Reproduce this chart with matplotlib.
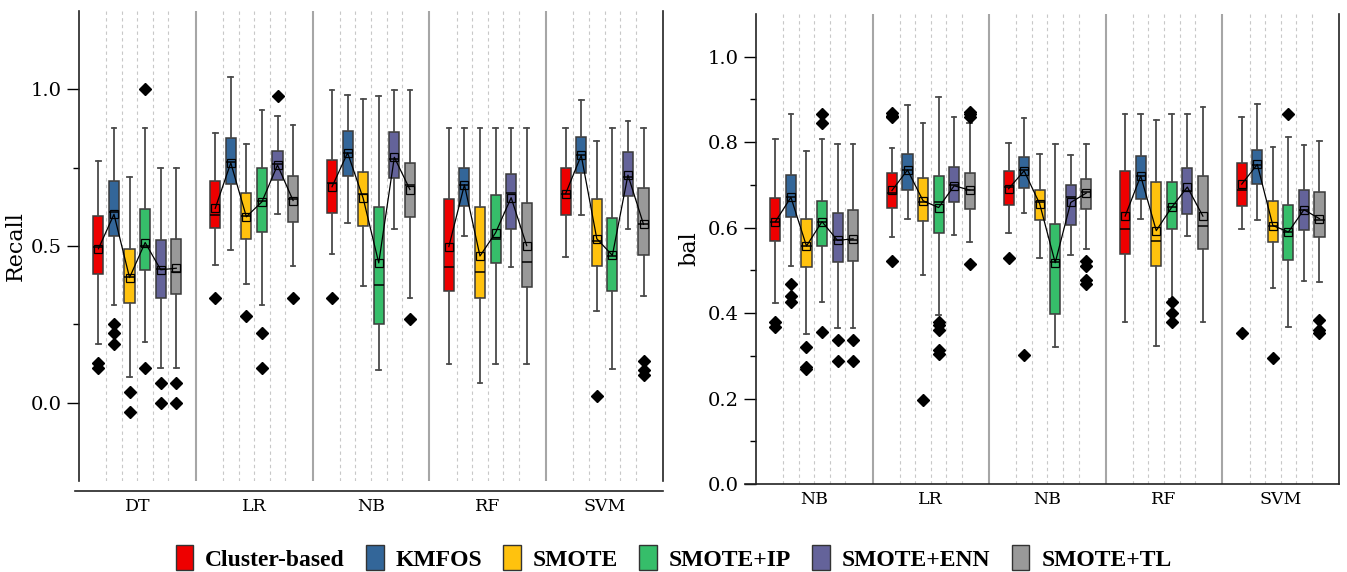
import numpy as np
import matplotlib.pyplot as plt
from matplotlib.patches import Patch
from matplotlib.ticker import FixedLocator

# ---------------- data ----------------
methods = ["Cluster-based", "KMFOS", "SMOTE", "SMOTE+IP", "SMOTE+ENN", "SMOTE+TL"]
colors = ["#EE0000", "#336699", "#FFC20E", "#36BE6A", "#64639A", "#999999"]

recall_groups = ["DT", "LR", "NB", "RF", "SVM"]
bal_groups = ["NB", "LR", "NB", "RF", "SVM"]

# rows: classifier, columns: method
recall_hi = [[0.772, 0.875, 0.721, 0.875, 0.749, 0.749],
             [0.859, 1.040, 0.824, 0.934, 0.916, 0.886],
             [0.999, 0.981, 0.969, 0.977, 0.999, 0.999],
             [0.875, 0.875, 0.875, 0.875, 0.875, 0.875],
             [0.875, 0.966, 0.834, 0.875, 0.899, 0.875]]
recall_q3 = [[0.596, 0.708, 0.489, 0.619, 0.518, 0.523],
             [0.707, 0.845, 0.670, 0.749, 0.803, 0.723],
             [0.773, 0.868, 0.736, 0.624, 0.864, 0.765],
             [0.649, 0.749, 0.624, 0.664, 0.730, 0.638],
             [0.749, 0.847, 0.649, 0.588, 0.799, 0.686]]
recall_med = [[0.498, 0.609, 0.402, 0.500, 0.425, 0.418],
              [0.599, 0.769, 0.597, 0.642, 0.760, 0.649],
              [0.702, 0.795, 0.665, 0.376, 0.778, 0.694],
              [0.434, 0.694, 0.416, 0.523, 0.668, 0.450],
              [0.666, 0.790, 0.516, 0.468, 0.719, 0.569]]
recall_q1 = [[0.410, 0.532, 0.317, 0.424, 0.335, 0.346],
             [0.558, 0.697, 0.521, 0.546, 0.712, 0.577],
             [0.604, 0.723, 0.563, 0.250, 0.716, 0.591],
             [0.357, 0.627, 0.333, 0.445, 0.553, 0.369],
             [0.599, 0.732, 0.437, 0.357, 0.659, 0.471]]
recall_lo = [[0.188, 0.312, 0.082, 0.195, 0.110, 0.110],
             [0.438, 0.487, 0.380, 0.312, 0.603, 0.436],
             [0.473, 0.572, 0.373, 0.104, 0.553, 0.333],
             [0.125, 0.531, 0.063, 0.125, 0.434, 0.125],
             [0.464, 0.599, 0.291, 0.108, 0.553, 0.339]]
recall_mean = [[0.491, 0.601, 0.399, 0.511, 0.424, 0.429],
               [0.620, 0.765, 0.593, 0.641, 0.758, 0.645],
               [0.689, 0.797, 0.652, 0.446, 0.783, 0.680],
               [0.498, 0.695, 0.468, 0.542, 0.654, 0.501],
               [0.667, 0.789, 0.523, 0.470, 0.726, 0.569]]
recall_fliers = [[[0.128, 0.110], [0.252, 0.222, 0.188], [0.034, -0.030], [1.0, 0.110], [0.063, 0.0], [0.063, 0.0]],
                 [[0.333], [], [0.277], [0.222, 0.110], [0.977], [0.333]],
                 [[0.333], [], [], [], [], [0.267]],
                 [[], [], [], [], [], []],
                 [[], [], [0.021], [], [], [0.132, 0.103, 0.089]]]

bal_hi = [[0.807, 0.865, 0.780, 0.808, 0.796, 0.796],
          [0.786, 0.888, 0.844, 0.906, 0.860, 0.844],
          [0.799, 0.857, 0.772, 0.795, 0.769, 0.796],
          [0.865, 0.865, 0.852, 0.865, 0.865, 0.882],
          [0.860, 0.890, 0.789, 0.812, 0.793, 0.802]]
bal_q3 = [[0.669, 0.723, 0.621, 0.662, 0.634, 0.641],
          [0.727, 0.772, 0.716, 0.720, 0.741, 0.727],
          [0.733, 0.765, 0.688, 0.609, 0.700, 0.715],
          [0.732, 0.767, 0.706, 0.706, 0.740, 0.722],
          [0.751, 0.781, 0.662, 0.652, 0.688, 0.683]]
bal_med = [[0.614, 0.672, 0.558, 0.614, 0.572, 0.572],
           [0.682, 0.735, 0.661, 0.659, 0.699, 0.689],
           [0.696, 0.736, 0.661, 0.519, 0.671, 0.683],
           [0.596, 0.721, 0.569, 0.648, 0.686, 0.605],
           [0.687, 0.747, 0.604, 0.590, 0.641, 0.618]]
bal_q1 = [[0.568, 0.626, 0.507, 0.557, 0.519, 0.522],
          [0.645, 0.687, 0.616, 0.587, 0.659, 0.643],
          [0.652, 0.692, 0.618, 0.398, 0.606, 0.644],
          [0.539, 0.667, 0.511, 0.596, 0.631, 0.550],
          [0.650, 0.702, 0.566, 0.524, 0.594, 0.577]]
bal_lo = [[0.423, 0.511, 0.351, 0.425, 0.365, 0.365],
          [0.577, 0.620, 0.490, 0.395, 0.583, 0.567],
          [0.588, 0.634, 0.529, 0.320, 0.536, 0.550],
          [0.380, 0.620, 0.323, 0.433, 0.581, 0.380],
          [0.596, 0.617, 0.458, 0.367, 0.476, 0.472]]
bal_mean = [[0.614, 0.671, 0.557, 0.614, 0.570, 0.574],
            [0.687, 0.735, 0.663, 0.647, 0.698, 0.688],
            [0.691, 0.733, 0.656, 0.518, 0.659, 0.681],
            [0.627, 0.721, 0.593, 0.648, 0.695, 0.627],
            [0.702, 0.748, 0.605, 0.590, 0.642, 0.621]]
bal_fliers = [[[0.380, 0.367], [0.468, 0.440, 0.425], [0.320, 0.273, 0.270], [0.865, 0.844, 0.355], [0.336, 0.289], [0.336, 0.289]],
              [[0.868, 0.862, 0.858, 0.521], [], [0.196], [0.380, 0.372, 0.361, 0.314, 0.305], [], [0.871, 0.866, 0.860, 0.515]],
              [[0.528], [0.302], [], [], [], [0.523, 0.511, 0.478, 0.468]],
              [[], [], [], [0.426, 0.400, 0.380], [], []],
              [[0.353], [], [0.294], [0.865], [], [0.384, 0.361, 0.353]]]

plt.rcParams['font.family'] = 'DejaVu Serif'

GROUP_W = 7.5   # width of one classifier block in x units
OFFSET = 1.25   # position of the first box inside a block


def draw_panel(ax, groups, lo, q1, med, q3, hi, mean, fliers):
    n_g = len(groups)
    n_m = len(methods)
    stats, pos, cols = [], [], []
    for g in range(n_g):
        for m in range(n_m):
            stats.append(dict(whislo=lo[g][m], q1=q1[g][m], med=med[g][m],
                              q3=q3[g][m], whishi=hi[g][m], mean=mean[g][m],
                              fliers=fliers[g][m]))
            pos.append(g * GROUP_W + OFFSET + m)
            cols.append(colors[m])

    # separators
    for g in range(n_g):
        for m in range(n_m - 1):
            ax.axvline(g * GROUP_W + OFFSET + m + 0.5, color='#c8c8c8',
                       lw=0.8, ls=(0, (3, 3)), zorder=0)
        if g > 0:
            ax.axvline(g * GROUP_W, color='#a6a6a6', lw=1.5, zorder=0)

    bp = ax.bxp(stats, positions=pos, widths=0.65, patch_artist=True,
                showmeans=True, manage_ticks=False,
                boxprops=dict(edgecolor='#3a3a3a', linewidth=1.1),
                whiskerprops=dict(color='#4a4a4a', linewidth=1.3),
                capprops=dict(color='#4a4a4a', linewidth=1.3),
                capwidths=0.3,
                medianprops=dict(color='black', linewidth=1.1),
                meanprops=dict(marker='s', markerfacecolor='none',
                               markeredgecolor='black', markersize=5.5,
                               markeredgewidth=0.9),
                flierprops=dict(marker='D', markerfacecolor='black',
                                markeredgecolor='black', markersize=6))
    for box, c in zip(bp['boxes'], cols):
        box.set_facecolor(c)

    # line through the means of each block
    for g in range(n_g):
        xs = [g * GROUP_W + OFFSET + m for m in range(n_m)]
        ax.plot(xs, mean[g], color='black', lw=0.9, zorder=4)

    ax.set_xlim(0, n_g * GROUP_W)
    ax.spines['top'].set_visible(False)
    for s in ['left', 'right', 'bottom']:
        ax.spines[s].set_color('#222222')
        ax.spines[s].set_linewidth(1.2)


def style_ticks(ax, groups):
    ax.set_xticks([g * GROUP_W + GROUP_W / 2 for g in range(len(groups))])
    ax.set_xticklabels(groups)
    ax.tick_params(axis='x', length=0, pad=5, labelsize=12.5)
    ax.tick_params(axis='y', which='major', length=9, width=1, labelsize=14)
    ax.tick_params(axis='y', which='minor', length=4, width=1)


fig = plt.figure(figsize=(13.47, 5.72), dpi=100)

ax1 = fig.add_axes([0.0586, 0.159, 0.4336, 0.822])
draw_panel(ax1, recall_groups, recall_lo, recall_q1, recall_med, recall_q3,
           recall_hi, recall_mean, recall_fliers)
ax1.spines['bottom'].set_position(('outward', 7))
ax1.spines['bottom'].set_bounds(-0.25, 37.5)
ax1.set_ylim(-0.25, 1.25)
ax1.set_yticks([0.0, 0.5, 1.0])
ax1.yaxis.set_minor_locator(FixedLocator([0.25, 0.75]))
style_ticks(ax1, recall_groups)
ax1.set_ylabel("Recall", fontsize=16)
ax1.yaxis.set_label_coords(-0.09, 0.5)

ax2 = fig.add_axes([0.5612, 0.1538, 0.4328, 0.8217])
draw_panel(ax2, bal_groups, bal_lo, bal_q1, bal_med, bal_q3,
           bal_hi, bal_mean, bal_fliers)
ax2.spines['bottom'].set_bounds(-0.7, 37.5)
ax2.set_ylim(0, 1.1)
ax2.set_yticks([0.0, 0.2, 0.4, 0.6, 0.8, 1.0])
ax2.yaxis.set_minor_locator(FixedLocator([0.1, 0.3, 0.5, 0.7, 0.9]))
style_ticks(ax2, bal_groups)
ax2.set_ylabel("bal", fontsize=16)
ax2.yaxis.set_label_coords(-0.096, 0.5)

handles = [Patch(facecolor=c, edgecolor='#333333', linewidth=1) for c in colors]
fig.legend(handles, methods, loc='lower center', bbox_to_anchor=(0.5, -0.035),
           ncol=6, frameon=False, handlelength=0.75, handleheight=1.25,
           handletextpad=0.5, columnspacing=0.9,
           prop=dict(family='Liberation Serif', weight='bold', size=17))

fig.savefig("out.png", dpi=100)
